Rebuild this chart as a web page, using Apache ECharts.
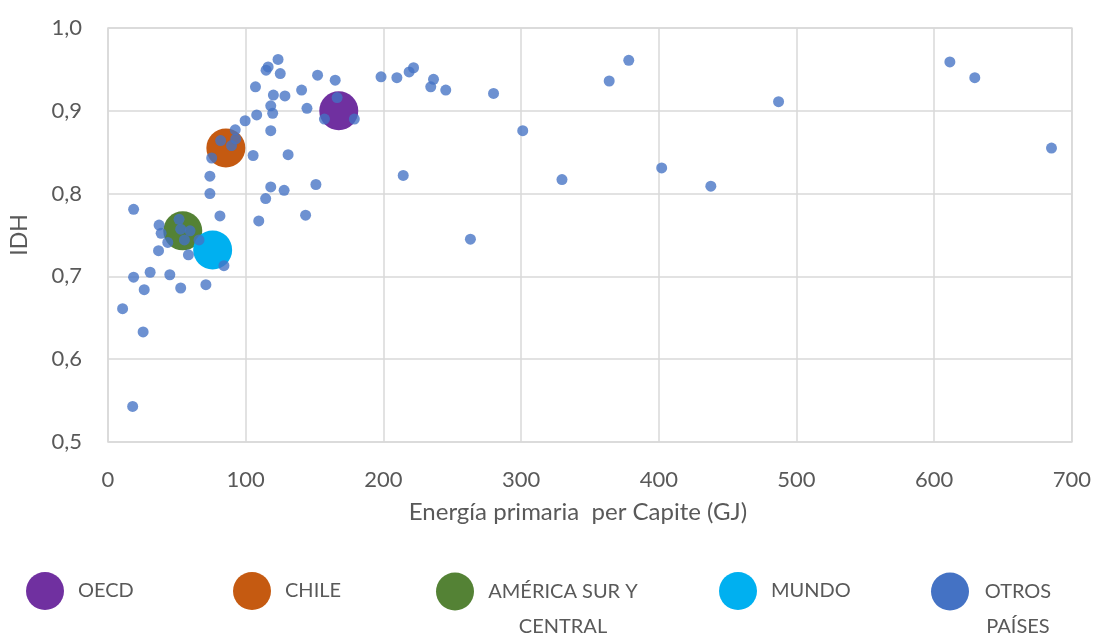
<!DOCTYPE html>
<html>
<head>
<meta charset="utf-8">
<script src="https://cdn.jsdelivr.net/npm/echarts@6/dist/echarts.min.js"></script>
<style>
  html, body { margin: 0; padding: 0; background: #ffffff; }
  #chart { width: 1094px; height: 639px; }
</style>
</head>
<body>
<div id="chart"></div>
<script>
// Energía primaria per cápita (GJ) vs IDH
var xTicks = [0, 100, 200, 300, 400, 500, 600, 700];
var yTicks = [0.5, 0.6, 0.7, 0.8, 0.9, 1.0];

// Agregados regionales (burbujas grandes)
var grupos = ['OECD', 'CHILE', 'AMÉRICA SUR Y CENTRAL', 'MUNDO'];
var gruposEnergia = [167.6, 85.6, 54.3, 76.0];
var gruposIdh = [0.900, 0.855, 0.755, 0.732];
var gruposColor = ['#7030A0', '#C55A11', '#548235', '#00B0F0'];

// Otros países
var otrosEnergia = [
  17.9, 10.6, 25.5, 18.6, 18.6, 26.3, 30.6, 44.9, 52.8, 71.1,
  84.2, 37.1, 38.6, 36.7, 43.4, 58.4, 51.6, 52.8, 59.6, 55.5,
  66.1, 81.3, 74.0, 74.0, 75.3, 81.8, 89.7, 92.8, 92.4, 99.6,
  105.4, 108.0, 107.1, 118.2, 119.6, 118.2, 130.8, 114.5, 118.2, 127.9,
  151.0, 109.5, 143.5, 120.1, 128.5, 123.5, 116.3, 114.8, 125.1, 140.6,
  144.5, 152.2, 165.0, 166.4, 157.2, 178.9, 198.3, 209.8, 218.7, 221.9,
  236.4, 234.4, 245.3, 280.0, 301.2, 214.4, 263.2, 329.7, 364.0, 378.2,
  402.1, 437.8, 487.0, 611.4, 629.5, 685.2
];
var otrosIdh = [
  0.543, 0.661, 0.633, 0.781, 0.699, 0.684, 0.705, 0.702, 0.686, 0.690,
  0.713, 0.762, 0.752, 0.731, 0.741, 0.726, 0.769, 0.757, 0.755, 0.744,
  0.744, 0.773, 0.800, 0.821, 0.843, 0.864, 0.858, 0.866, 0.877, 0.888,
  0.846, 0.895, 0.929, 0.906, 0.897, 0.876, 0.847, 0.794, 0.808, 0.804,
  0.811, 0.767, 0.774, 0.919, 0.918, 0.962, 0.953, 0.949, 0.945, 0.925,
  0.903, 0.943, 0.937, 0.916, 0.890, 0.890, 0.941, 0.940, 0.947, 0.952,
  0.938, 0.929, 0.925, 0.921, 0.876, 0.822, 0.745, 0.817, 0.936, 0.961,
  0.831, 0.809, 0.911, 0.959, 0.940, 0.855
];
var otrosNombre = 'OTROS PAÍSES';

var FONT = 'Lato, "Open Sans", sans-serif';
var GRAY = '#595959';
var LINE = '#d9d9d9';

var chart = echarts.init(document.getElementById('chart'), null, { renderer: 'canvas' });

var series = grupos.map(function (g, i) {
  return {
    name: g,
    type: 'scatter',
    symbol: 'circle',
    symbolSize: 39,
    z: 2,
    itemStyle: { color: gruposColor[i], opacity: 1 },
    data: [[gruposEnergia[i], gruposIdh[i]]]
  };
});
series.push({
  name: otrosNombre,
  type: 'scatter',
  symbol: 'circle',
  symbolSize: 11,
  z: 3,
  itemStyle: { color: '#4472C4', opacity: 0.78 },
  data: otrosEnergia.map(function (x, i) { return [x, otrosIdh[i]]; })
});

// One legend block per entry, laid out like a spreadsheet key
function legendBlock(name, left, top, text, width) {
  var block = {
    data: [name],
    left: left,
    top: top,
    padding: 0,
    icon: 'circle',
    itemWidth: 38,
    itemHeight: 38,
    itemStyle: { opacity: 1 },
    selectedMode: false,
    textStyle: {
      color: GRAY,
      fontFamily: FONT,
      fontSize: 20,
      lineHeight: 35,
      padding: [0, 0, 0, 9]
    }
  };
  if (text) {
    block.formatter = function () { return text; };
    block.textStyle.rich = {
      c: { width: width, align: 'center', color: GRAY, fontFamily: FONT, fontSize: 20, lineHeight: 35 }
    };
  }
  return block;
}

var option = {
  animation: false,
  backgroundColor: '#ffffff',
  grid: {
    left: 106, right: 21, top: 28, bottom: 197,
    show: true, borderColor: LINE, borderWidth: 1.5, backgroundColor: 'transparent'
  },
  xAxis: {
    type: 'value',
    min: xTicks[0], max: xTicks[xTicks.length - 1], interval: 100,
    name: 'Energía primaria  per Capite (GJ)',
    nameLocation: 'middle',
    nameGap: 58,
    nameTextStyle: { color: GRAY, fontFamily: FONT, fontSize: 24, padding: [0, 24, 0, 0] },
    axisLine: { show: false },
    axisTick: { show: false },
    axisLabel: { color: GRAY, fontFamily: FONT, fontSize: 22, margin: 27 },
    splitLine: { show: true, lineStyle: { color: LINE, width: 1.5 } }
  },
  yAxis: {
    type: 'value',
    min: yTicks[0], max: yTicks[yTicks.length - 1], interval: 0.1,
    name: 'IDH',
    nameLocation: 'middle',
    nameGap: 77,
    nameRotate: 90,
    nameTextStyle: { color: GRAY, fontFamily: FONT, fontSize: 23 },
    axisLine: { show: false },
    axisTick: { show: false },
    axisLabel: {
      color: GRAY, fontFamily: FONT, fontSize: 22, margin: 26,
      formatter: function (v) { return v.toFixed(1).replace('.', ','); }
    },
    splitLine: { show: true, lineStyle: { color: LINE, width: 1.5 } }
  },
  legend: [
    legendBlock('OECD', 26, 572),
    legendBlock('CHILE', 233, 572),
    legendBlock('AMÉRICA SUR Y CENTRAL', 436, 539, '\n{c|AMÉRICA SUR Y}\n{c|CENTRAL}', 150),
    legendBlock('MUNDO', 719, 572),
    legendBlock(otrosNombre, 931, 539, '\n{c|OTROS}\n{c|PAÍSES}', 70)
  ],
  series: series
};

chart.setOption(option);
</script>
</body>
</html>
